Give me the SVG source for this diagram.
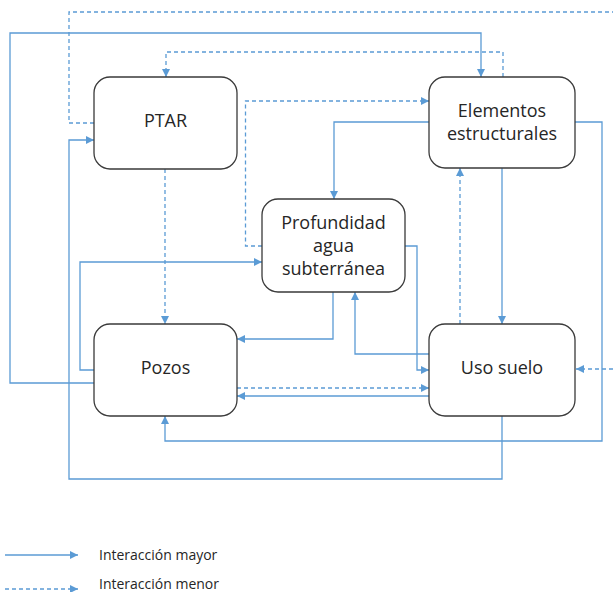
<svg xmlns="http://www.w3.org/2000/svg" width="613" height="592" viewBox="0 0 613 592">
<style>
.box{fill:#fff;stroke:#3a3a3a;stroke-width:1.3}
.t{font-family:"Open Sans","Noto Sans",sans-serif;font-size:18px;fill:#262626;text-anchor:middle}
.lg{font-family:"Open Sans","Noto Sans",sans-serif;font-size:14px;fill:#262626}
.s{fill:none;stroke:#5B9BD5;stroke-width:1.3;marker-end:url(#ah)}
.d{fill:none;stroke:#5B9BD5;stroke-width:1.3;stroke-dasharray:4 3;marker-end:url(#ah)}
</style>
<defs>
<marker id="ah" viewBox="0 0 10 10" refX="10" refY="5" markerWidth="8" markerHeight="8" markerUnits="userSpaceOnUse" orient="auto">
<path d="M0,0L10,5L0,10z" fill="#5B9BD5"/>
</marker>
</defs>
<rect width="613" height="592" fill="#fff"/>
<g id="connectors">
<path class="d" d="M94,123H69V12H616V369H576"/>
<path class="s" d="M94,383H10V33H481V77"/>
<path class="d" d="M503,77V52H166V77"/>
<path class="s" d="M502,416V479H69V140H94"/>
<path class="d" d="M165,169V324"/>
<path class="d" d="M262,246H245.5V101H429"/>
<path class="s" d="M429,122H334V199"/>
<path class="s" d="M575,122H602V441H165V416"/>
<path class="s" d="M502,168V324"/>
<path class="d" d="M460,324V168"/>
<path class="s" d="M94,370H80V262H262"/>
<path class="s" d="M405,246H417V370H429"/>
<path class="s" d="M333,292V339H237"/>
<path class="s" d="M429,354H355V292"/>
<path class="d" d="M237,388H429"/>
<path class="s" d="M429,396H237"/>
</g>
<g id="ptar"><rect class="box" x="94" y="77" width="143" height="92" rx="16"/><text class="t" x="165.5" y="127">PTAR</text></g>
<g id="elementos"><rect class="box" x="429" y="77" width="146" height="91" rx="16"/><text class="t" x="502" y="117">Elementos</text><text class="t" x="502" y="140">estructurales</text></g>
<g id="profundidad"><rect class="box" x="262" y="199" width="143" height="93" rx="16"/><text class="t" x="333.5" y="229">Profundidad</text><text class="t" x="333.5" y="252">agua</text><text class="t" x="333.5" y="275">subterránea</text></g>
<g id="pozos"><rect class="box" x="94" y="324" width="143" height="92" rx="16"/><text class="t" x="165.5" y="374">Pozos</text></g>
<g id="uso"><rect class="box" x="429" y="324" width="146" height="92" rx="16"/><text class="t" x="502" y="374">Uso suelo</text></g>
<g id="legend">
<path class="s" d="M5,555H78"/>
<path class="d" d="M5,589H78"/>
<text class="lg" x="99" y="560">Interacción mayor</text>
<text class="lg" x="99" y="589">Interacción menor</text>
</g>
</svg>
